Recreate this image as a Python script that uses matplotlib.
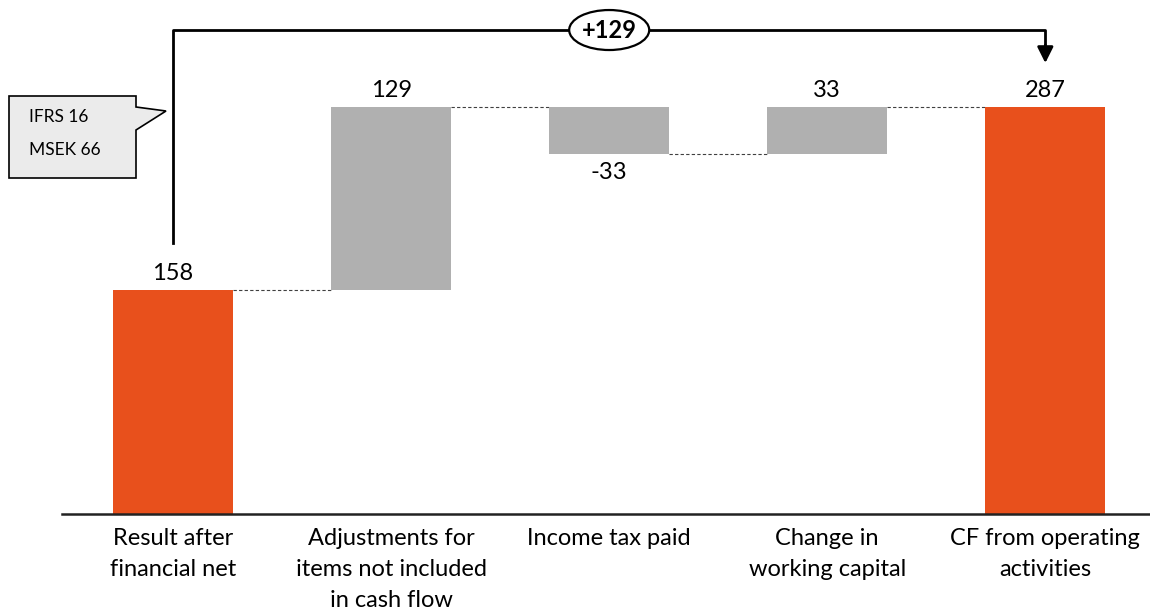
import matplotlib
matplotlib.use("Agg")
import matplotlib.pyplot as plt
from matplotlib.patches import Ellipse, Polygon

plt.rcParams['font.family'] = ['Lato', 'DejaVu Sans']

categories = ["Result after\nfinancial net",
              "Adjustments for\nitems not included\nin cash flow",
              "Income tax paid",
              "Change in\nworking capital",
              "CF from operating\nactivities"]
deltas = [158, 129, -33, 33, 287]
is_total = [True, False, False, False, True]
labels = ["158", "129", "-33", "33", "287"]
bracket_label = "+129"
callout_lines = ["IFRS 16", "MSEK 66"]

ORANGE = "#E8501C"
GRAY = "#B0B0B0"
FS = 17

W, H = 1150, 613
fig = plt.figure(figsize=(W / 100, H / 100), dpi=100)
ax_left = 62 / W
ax_bottom = (H - 514) / H
ax = fig.add_axes([ax_left, ax_bottom, 1 - ax_left, 1 - ax_bottom])
ax.set_xlim(-0.509, 4.48)
ax.set_ylim(0, 362.5)

bw = 0.55
running = 0
bottoms, tops, levels = [], [], []
for i, (d, tot) in enumerate(zip(deltas, is_total)):
    if tot:
        b, t = 0, d
        running = d
    else:
        b = running
        running += d
        t = running
    levels.append(running)
    lo, hi = min(b, t), max(b, t)
    bottoms.append(lo); tops.append(hi)
    ax.bar(i, hi - lo, bottom=lo, width=bw, color=ORANGE if tot else GRAY,
           edgecolor='none', zorder=2)

# connectors
for i in range(len(deltas) - 1):
    ax.plot([i + bw / 2, i + 1 - bw / 2], [levels[i], levels[i]],
            color='#404040', lw=0.8, ls=(0, (3, 2)), zorder=1)

# value labels
for i, (d, lab) in enumerate(zip(deltas, labels)):
    if d < 0:
        ax.text(i, bottoms[i] - 6, lab, ha='center', va='top', fontsize=FS)
    else:
        ax.text(i, tops[i] + 4, lab, ha='center', va='bottom', fontsize=FS)

ax.spines[['top', 'right', 'left']].set_visible(False)
ax.spines['bottom'].set_linewidth(1.8)
ax.spines['bottom'].set_color('#222222')
ax.set_yticks([])
ax.set_xticks(range(len(categories)))
ax.set_xticklabels(categories, fontsize=FS, linespacing=1.6)
ax.tick_params(axis='x', length=0, pad=10)

def py(pix):
    return (514 - pix) / 1.418

y_top = py(30)
ax.plot([0, 0, 4, 4], [py(243), y_top, y_top, py(50)], color='black', lw=2,
        clip_on=False, zorder=3, solid_joinstyle='round')
ax.annotate('', xy=(4, py(63)), xytext=(4, py(45)),
            arrowprops=dict(arrowstyle='-|>', color='black', lw=2,
                            mutation_scale=24, shrinkA=0, shrinkB=0),
            annotation_clip=False)
x_ell = (609 - 62) / 218 - 0.509
ax.add_patch(Ellipse((x_ell, y_top), width=80 / 218, height=40 / 1.418,
                     facecolor='white', edgecolor='black', lw=1.6,
                     clip_on=False, zorder=4))
ax.text(x_ell, y_top, bracket_label, ha='center', va='center', fontsize=FS,
        fontweight='bold', zorder=5)

def fx(px): return px / W
def fy(pyx): return (H - pyx) / H
pts = [(9, 96), (136, 96), (136, 107), (166, 111), (136, 130), (136, 178), (9, 178)]
fig.add_artist(Polygon([(fx(x), fy(y)) for x, y in pts], closed=True,
                       transform=fig.transFigure, facecolor='#EBEBEB',
                       edgecolor='black', lw=1.2))
fig.text(fx(29), fy(117), callout_lines[0], ha='left', va='center', fontsize=12.5)
fig.text(fx(29), fy(150), callout_lines[1], ha='left', va='center', fontsize=12.5)

fig.savefig("out.png", dpi=100)
